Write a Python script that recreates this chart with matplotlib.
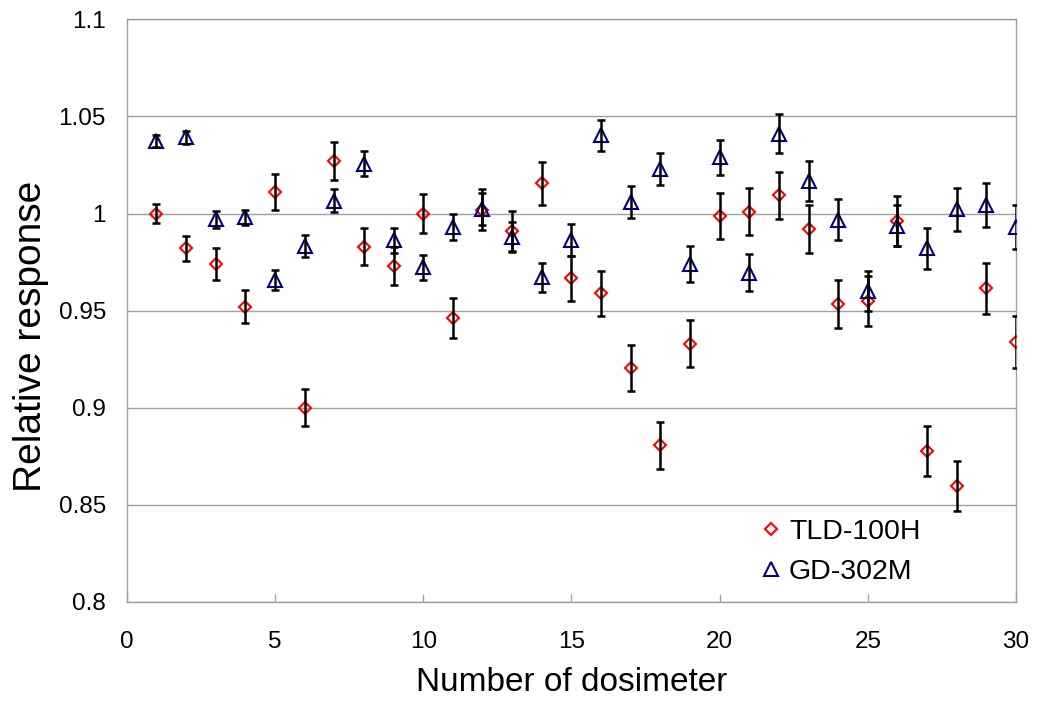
import numpy as np
import matplotlib
matplotlib.use("Agg")
import matplotlib.pyplot as plt
from matplotlib.ticker import FuncFormatter

plt.rcParams['font.family'] = ['Liberation Sans', 'DejaVu Sans']

# dosimeter numbers
dosimeter = list(range(1, 31))

# TLD-100H relative response and error
tld_resp = [1.000, 0.982, 0.974, 0.952, 1.011, 0.900, 1.027, 0.983, 0.973, 1.000,
            0.946, 1.002, 0.991, 1.0155, 0.9666, 0.9589, 0.9204, 0.8807, 0.933, 0.9988,
            1.001, 1.0094, 0.9921, 0.9536, 0.955, 0.9961, 0.8776, 0.8597, 0.9616, 0.9338]
tld_err = [0.005, 0.0063, 0.0082, 0.0086, 0.0093, 0.0094, 0.0096, 0.0097, 0.0099, 0.010,
           0.0103, 0.0106, 0.0103, 0.011, 0.0116, 0.0116, 0.0118, 0.012, 0.012, 0.012,
           0.0122, 0.012, 0.0122, 0.0124, 0.013, 0.0128, 0.0129, 0.0128, 0.0131, 0.0133]

# GD-302M relative response and error
gd_resp = [1.0373, 1.0392, 0.997, 0.998, 0.9658, 0.9833, 1.0066, 1.0257, 0.9863, 0.9723,
           0.9931, 1.0023, 0.988, 0.9671, 0.9863, 1.0403, 1.006, 1.0231, 0.974, 1.0289,
           0.9696, 1.0411, 1.0167, 0.9968, 0.960, 0.9938, 0.982, 1.0021, 1.0044, 0.9929]
gd_err = [0.003, 0.0032, 0.0042, 0.004, 0.005, 0.0056, 0.0058, 0.0065, 0.0064, 0.0066,
          0.0069, 0.0083, 0.0077, 0.0075, 0.0081, 0.0081, 0.0081, 0.0082, 0.0092, 0.0092,
          0.0094, 0.0099, 0.0102, 0.0106, 0.0104, 0.0105, 0.0107, 0.0111, 0.0113, 0.0114]

x_ticks = [0, 5, 10, 15, 20, 25, 30]
y_ticks = [0.8, 0.85, 0.9, 0.95, 1.0, 1.05, 1.1]

fig = plt.figure(figsize=(10.48, 7.02), dpi=100)
ax = fig.add_axes([0.121, 0.1425, 0.8485, 0.83])

# error bars drawn on top of hollow markers
ax.errorbar(dosimeter, tld_resp, yerr=tld_err, fmt='none', ecolor='black',
            elinewidth=1.8, capsize=3, capthick=1.8, zorder=4)
ax.errorbar(dosimeter, gd_resp, yerr=gd_err, fmt='none', ecolor='black',
            elinewidth=1.8, capsize=3, capthick=1.8, zorder=4)
ax.plot(dosimeter, tld_resp, linestyle='none', marker='D', markersize=6.6,
        markerfacecolor='none', markeredgecolor='#ff0000', markeredgewidth=1.5,
        label='TLD-100H', zorder=3)
ax.plot(dosimeter, gd_resp, linestyle='none', marker='^', markersize=10,
        markerfacecolor='none', markeredgecolor='#000080', markeredgewidth=1.5,
        label='GD-302M', zorder=3)

ax.set_xlim(0, 30)
ax.set_ylim(0.8, 1.1)
ax.set_xticks(x_ticks)
ax.set_yticks(y_ticks)
ax.yaxis.set_major_formatter(FuncFormatter(lambda v, p: '%g' % round(v, 3)))

ax.grid(axis='y', color='#a0a0a0', linewidth=1.0)
ax.set_axisbelow(True)
for s in ax.spines.values():
    s.set_color('#a0a0a0')
    s.set_linewidth(1.0)

ax.tick_params(axis='x', direction='in', length=6, width=1.0, color='#a0a0a0',
               pad=21, labelsize=17.5)
ax.tick_params(axis='y', length=0, pad=15, labelsize=17.5)

ax.set_xlabel('Number of dosimeter', fontsize=24, labelpad=10)
ax.set_ylabel('Relative response', fontsize=28)
ax.yaxis.set_label_coords(-0.087, 0.455)

ax.legend(loc='lower right', bbox_to_anchor=(0.915, -0.005), frameon=False,
          fontsize=20.5, handletextpad=0.13, labelspacing=0.5,
          handlelength=1.0, borderpad=0.2)

fig.savefig('out.png', dpi=100)
